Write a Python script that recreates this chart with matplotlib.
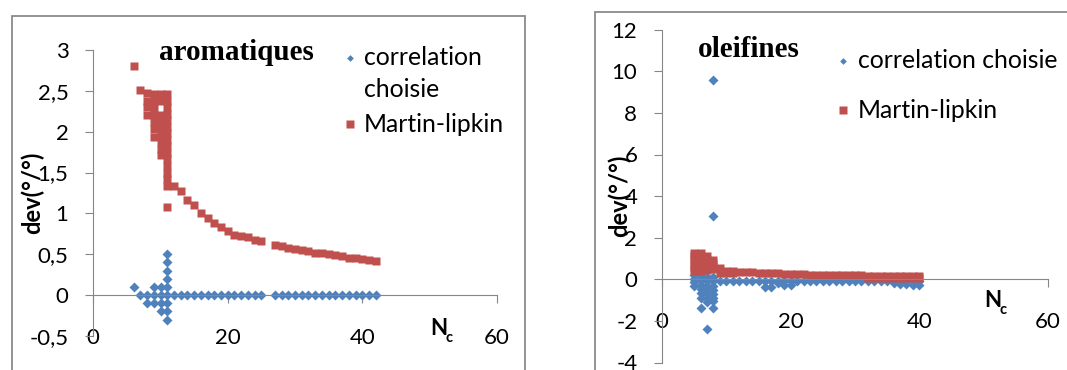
import matplotlib
matplotlib.use("Agg")
import matplotlib.pyplot as plt
from matplotlib.patches import Rectangle

# ---- aromatiques ----
# several compounds share the same carbon number at the start of the series
arom_ml_nc_multi = [6, 7, 8, 9, 10, 11]
arom_ml_dev_multi = [
    [2.80],
    [2.51],
    [2.47, 2.38, 2.30, 2.21],
    [2.46, 2.37, 2.29, 2.21, 2.12, 2.03, 1.94],
    [2.46, 2.38, 2.20, 2.12, 2.04, 1.96, 1.88, 1.79, 1.71],
    [2.46, 2.38, 2.30, 2.22, 2.14, 2.06, 1.98, 1.90, 1.82, 1.74, 1.66, 1.58, 1.50, 1.42, 1.34, 1.08],
]
arom_nc_tail = [12, 13, 14, 15, 16, 17, 18, 19, 20, 21, 22, 23, 24, 25,
                27, 28, 29, 30, 31, 32, 33, 34, 35, 36, 37, 38, 39, 40, 41, 42]
arom_ml_dev_tail = [1.33, 1.28, 1.16, 1.10, 1.01, 0.95, 0.88, 0.83, 0.78, 0.74, 0.72, 0.71, 0.68, 0.66,
                    0.61, 0.60, 0.58, 0.57, 0.55, 0.54, 0.52, 0.51, 0.50, 0.49, 0.48, 0.46, 0.45, 0.44, 0.43, 0.42]

arom_cc_nc_multi = [6, 7, 8, 9, 10, 11]
arom_cc_dev_multi = [
    [0.1],
    [0.0],
    [0.0, -0.1],
    [0.1, 0.0, -0.1],
    [0.1, 0.0, -0.1, -0.2],
    [0.5, 0.4, 0.3, 0.2, 0.1, 0.0, -0.1, -0.2, -0.3],
]
arom_cc_dev_tail = [0.0, 0.0, 0.0, 0.0, 0.0, 0.0, 0.0, 0.0, 0.0, 0.0, 0.0, 0.0, 0.0, 0.0,
                    0.0, 0.0, 0.0, 0.0, 0.0, 0.0, 0.0, 0.0, 0.0, 0.0, 0.0, 0.0, 0.0, 0.0, 0.0, 0.0]

# ---- oleifines ----
olef_cc_nc_multi = [5, 6, 7, 8]
olef_cc_dev_multi = [
    [0.2, 0.0, -0.15, -0.3],
    [0.15, -0.05, -0.25, -0.45, -0.65, -0.9, -1.4],
    [0.1, -0.1, -0.3, -0.5, -0.7, -0.9, -1.1, -2.4],
    [9.6, 3.05, 0.1, -0.1, -0.3, -0.5, -0.7, -0.9, -1.05, -1.4],
]
olef_nc_tail = [9, 10, 11, 12, 13, 14, 15, 16, 17, 18, 19, 20, 21, 22, 23, 24,
                25, 26, 27, 28, 29, 30, 31, 32, 33, 34, 35, 36, 37, 38, 39, 40]
olef_cc_dev_tail = [-0.1, -0.1, -0.1, -0.1, -0.1, -0.1, -0.1, -0.1, -0.1, -0.1, -0.1, -0.1, -0.1, -0.1, -0.1, -0.1,
                    -0.1, -0.1, -0.1, -0.1, -0.1, -0.1, -0.1, -0.1, -0.1, -0.1, -0.1, -0.1, -0.1, -0.1, -0.1, -0.1]
olef_cc_nc_low = [16, 17, 18, 19, 20, 36, 37, 38, 39, 40]
olef_cc_dev_low = [-0.35, -0.35, -0.2, -0.25, -0.25, -0.2, -0.22, -0.24, -0.25, -0.27]

olef_ml_nc_multi = [5, 6, 7, 8, 9, 10, 11]
olef_ml_dev_multi = [
    [1.28, 1.10, 0.92, 0.74, 0.56, 0.40],
    [1.28, 1.10, 0.92, 0.74, 0.56, 0.40],
    [1.12, 0.95, 0.78, 0.60, 0.44],
    [0.93, 0.76, 0.60, 0.50],
    [0.52, 0.30],
    [0.42, 0.30],
    [0.40, 0.30],
]
olef_ml_nc_tail = [12, 13, 14, 15, 16, 17, 18, 19, 20, 21, 22, 23, 24, 25, 26, 27,
                   28, 29, 30, 31, 32, 33, 34, 35, 36, 37, 38, 39, 40]
olef_ml_dev_tail = [0.36, 0.34, 0.33, 0.32, 0.30, 0.30, 0.28, 0.27, 0.26, 0.25, 0.24, 0.23, 0.23, 0.22, 0.22, 0.21,
                    0.21, 0.20, 0.20, 0.19, 0.15, 0.15, 0.15, 0.15, 0.15, 0.14, 0.14, 0.14, 0.14]
olef_ml_nc_low = [32, 33, 34, 35, 36, 37, 38, 39, 40]
olef_ml_dev_low = [0.05, 0.05, 0.05, 0.05, 0.04, 0.04, 0.04, 0.04, 0.04]

# axis ticks
x_ticks = [0, 20, 40, 60]
x_ticklabels = ["0", "20", "40", "60"]
arom_y_ticks = [-0.5, 0, 0.5, 1, 1.5, 2, 2.5, 3]
arom_y_ticklabels = ["-0,5", "0", "0,5", "1", "1,5", "2", "2,5", "3"]
olef_y_ticks = [-4, -2, 0, 2, 4, 6, 8, 10, 12]
olef_y_ticklabels = ["-4", "-2", "0", "2", "4", "6", "8", "10", "12"]

BLUE = "#4F81BD"
RED = "#C0504D"
GREY = "#868686"
SANS = ["Lato", "DejaVu Sans"]
SERIF = ["Liberation Serif", "DejaVu Serif"]
MS_DIAMOND = 4.7
MS_SQUARE = 5.7

W, H = 1067, 370


def fx(x):
    return x / W


def fy(y):
    return 1 - y / H


def flatten(ncs, devs):
    xs, ys = [], []
    for n, vals in zip(ncs, devs):
        for v in vals:
            xs.append(n)
            ys.append(v)
    return xs, ys


def make_axes(fig, x0, x1, ytop, ybot):
    ax = fig.add_axes([fx(x0), fy(ybot), fx(x1) - fx(x0), (ybot - ytop) / H])
    ax.patch.set_alpha(0)
    for s in ["top", "right"]:
        ax.spines[s].set_visible(False)
    ax.spines["bottom"].set_position(("data", 0))
    for s in ["left", "bottom"]:
        ax.spines[s].set_color(GREY)
        ax.spines[s].set_linewidth(0.8)
    ax.tick_params(axis="both", direction="out", length=5.8, width=0.8, color=GREY,
                   labelsize=16, labelcolor="black")
    ax.tick_params(axis="y", pad=12)
    ax.tick_params(axis="x", pad=18)
    ax.set_xlim(0, 60)
    ax.set_xticks(x_ticks)
    ax.set_xticklabels(x_ticklabels, fontfamily=SANS)
    return ax


def legend_key(fig, mx, my, marker, color, ms, tx, lines):
    fig.add_artist(plt.Line2D([fx(mx)], [fy(my)], marker=marker, color=color, ms=ms,
                              mec="none", linestyle="none", transform=fig.transFigure))
    for tyb, txt in lines:
        fig.text(fx(tx), fy(tyb), txt, fontsize=17.8, fontfamily=SANS, va="baseline", ha="left")


def nc_label(fig, x, yb):
    fig.text(fx(x), fy(yb), "N", fontsize=16, fontweight="bold", fontfamily=SANS, va="baseline")
    fig.text(fx(x + 15), fy(yb + 7), "c", fontsize=10.5, fontweight="bold", fontfamily=SANS, va="baseline")


fig = plt.figure(figsize=(W / 100, H / 100), dpi=100)

# panel frames
fig.add_artist(Rectangle((fx(12), fy(420)), fx(525) - fx(12), (420 - 16) / H, fill=False,
                         edgecolor="#8a8a8a", lw=1.3, transform=fig.transFigure))
fig.add_artist(Rectangle((fx(595), fy(420)), fx(1120) - fx(595), (420 - 12) / H, fill=False,
                         edgecolor="#8a8a8a", lw=1.3, transform=fig.transFigure))

# aromatiques
ax1 = make_axes(fig, 93.3, 496.7, 50, 336)
ax1.set_ylim(-0.5, 3)
ax1.set_yticks(arom_y_ticks)
ax1.set_yticklabels(arom_y_ticklabels, fontfamily=SANS)
cx, cy = flatten(arom_cc_nc_multi, arom_cc_dev_multi)
ax1.plot(cx + arom_nc_tail, cy + arom_cc_dev_tail, linestyle="none", marker="D", ms=MS_DIAMOND,
         color=BLUE, mec="none", clip_on=False)
mx, my = flatten(arom_ml_nc_multi, arom_ml_dev_multi)
ax1.plot(mx + arom_nc_tail, my + arom_ml_dev_tail, linestyle="none", marker="s", ms=MS_SQUARE,
         color=RED, mec="none", clip_on=False)

fig.text(fx(236), fy(60), "aromatiques", fontsize=21, fontweight="bold", fontfamily=SERIF,
         ha="center", va="baseline")
fig.text(fx(32), fy(193), "dev(°/°)", fontsize=17, fontweight="bold", fontfamily=SANS,
         rotation=90, ha="center", va="center")
legend_key(fig, 350, 58, "D", BLUE, 3.4, 364, [(65, "correlation"), (97, "choisie")])
legend_key(fig, 350, 124, "s", RED, 6.0, 364, [(132, "Martin-lipkin")])
nc_label(fig, 430, 335)

# oleifines
ax2 = make_axes(fig, 662, 1048, 29.7, 362.5)
ax2.set_ylim(-4, 12)
ax2.set_yticks(olef_y_ticks)
ax2.set_yticklabels(olef_y_ticklabels, fontfamily=SANS)
cx, cy = flatten(olef_cc_nc_multi, olef_cc_dev_multi)
ax2.plot(cx + olef_nc_tail + olef_cc_nc_low, cy + olef_cc_dev_tail + olef_cc_dev_low,
         linestyle="none", marker="D", ms=MS_DIAMOND, color=BLUE, mec="none", clip_on=False)
mx, my = flatten(olef_ml_nc_multi, olef_ml_dev_multi)
ax2.plot(mx + olef_ml_nc_tail + olef_ml_nc_low, my + olef_ml_dev_tail + olef_ml_dev_low,
         linestyle="none", marker="s", ms=MS_SQUARE, color=RED, mec="none", clip_on=False)

fig.text(fx(749), fy(57), "oleifines", fontsize=21, fontweight="bold", fontfamily=SERIF,
         ha="center", va="baseline")
fig.text(fx(619), fy(196), "dev(°/°)", fontsize=17, fontweight="bold", fontfamily=SANS,
         rotation=90, ha="center", va="center")
legend_key(fig, 843, 61, "D", BLUE, 3.4, 858, [(68, "correlation choisie")])
legend_key(fig, 843, 110, "s", RED, 6.0, 858, [(118, "Martin-lipkin")])
nc_label(fig, 984, 307)

fig.savefig("out.png", dpi=100)
